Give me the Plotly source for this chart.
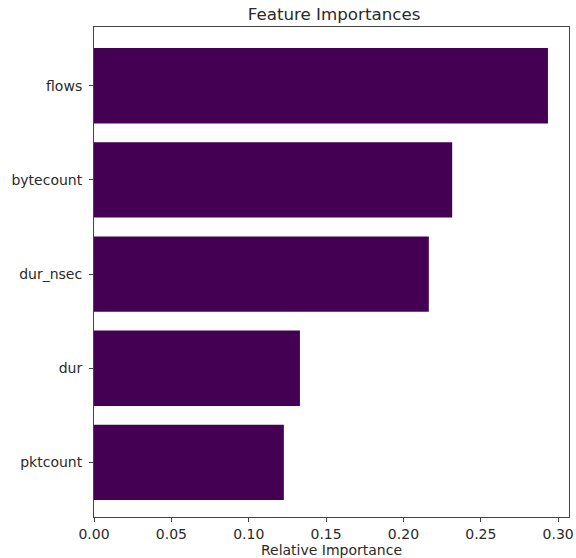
import plotly.graph_objects as go

# Feature importances (sorted ascending so the largest sits on top)
features = ["pktcount", "dur", "dur_nsec", "bytecount", "flows"]
importances = [0.1227, 0.1331, 0.2164, 0.2315, 0.2934]
tick_vals = [0.0, 0.05, 0.10, 0.15, 0.20, 0.25, 0.30]
tick_text = ["0.00", "0.05", "0.10", "0.15", "0.20", "0.25", "0.30"]

fig = go.Figure(
    go.Bar(
        x=importances,
        y=list(range(len(features))),
        orientation="h",
        width=0.8,
        marker=dict(color="#440154", line=dict(width=0)),
    )
)

ink = "#2a2a2a"
font = dict(family="DejaVu Sans", size=14, color=ink)

fig.update_layout(
    width=576,
    height=558,
    margin=dict(l=94, r=2, t=27, b=41),
    plot_bgcolor="white",
    paper_bgcolor="white",
    showlegend=False,
    font=font,
    title=dict(
        text="Feature Importances",
        x=0.58,
        xanchor="center",
        y=1 - 14 / 558,
        yanchor="middle",
        font=dict(family="DejaVu Sans", size=16.7, color=ink),
    ),
    xaxis=dict(
        range=[0, 0.307],
        tickvals=tick_vals,
        ticktext=tick_text,
        ticklabeloverflow="allow",
        ticks="outside",
        ticklen=4,
        tickcolor="#444444",
        showgrid=False,
        zeroline=False,
        showline=True,
        linecolor="#444444",
        linewidth=1,
        mirror=True,
        title=dict(text="Relative Importance", standoff=2, font=dict(size=14)),
    ),
    yaxis=dict(
        range=[-0.58, len(features) - 1 + 0.624],
        tickvals=list(range(len(features))),
        ticktext=features,
        ticks="outside",
        ticklen=4,
        tickcolor="#444444",
        ticklabelstandoff=4,
        showgrid=False,
        zeroline=False,
        showline=True,
        linecolor="#444444",
        linewidth=1,
        mirror=True,
    ),
)

fig.write_html("out.html")
